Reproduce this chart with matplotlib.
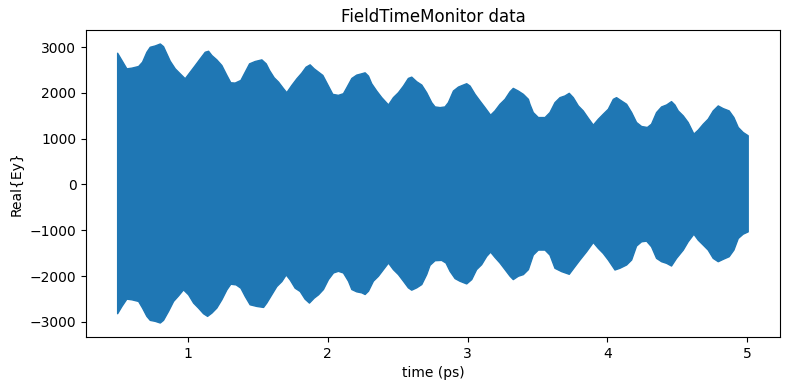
import matplotlib
matplotlib.use("Agg")
import matplotlib.pyplot as plt

# Upper envelope of Real{Ey}: time (ps) and value
t_upper = [0.499, 0.530, 0.565, 0.601, 0.649, 0.677, 0.708, 0.732, 0.768, 0.804,
           0.827, 0.851, 0.875, 0.911, 0.946, 0.982, 1.018, 1.054, 1.089, 1.125,
           1.149, 1.173, 1.208, 1.244, 1.280, 1.308, 1.339, 1.380, 1.411, 1.442,
           1.482, 1.530, 1.561, 1.585, 1.618, 1.649, 1.685, 1.708, 1.744, 1.780,
           1.815, 1.846, 1.875, 1.904, 1.935, 1.966,
           2.006, 2.037, 2.077, 2.113, 2.137, 2.173, 2.208, 2.244, 2.268, 2.292,
           2.315, 2.351, 2.387, 2.435, 2.470, 2.506, 2.542, 2.577, 2.601, 2.637,
           2.673, 2.708, 2.744, 2.768, 2.804, 2.839, 2.863, 2.899, 2.935, 2.970,
           2.994, 3.018, 3.054, 3.089, 3.125, 3.165, 3.196, 3.232, 3.268, 3.304,
           3.327, 3.363, 3.399, 3.435,
           3.446, 3.470, 3.506, 3.554, 3.589, 3.625, 3.661, 3.696, 3.727, 3.756,
           3.792, 3.827, 3.863, 3.899, 3.935, 3.970, 4.006, 4.042, 4.065, 4.101,
           4.137, 4.173, 4.208, 4.244, 4.285, 4.315, 4.351, 4.387, 4.423, 4.458,
           4.482, 4.506, 4.542, 4.577, 4.618, 4.649, 4.685, 4.720, 4.756, 4.792,
           4.827, 4.870, 4.904, 4.935, 4.970, 5.006]
ey_upper = [2867, 2707, 2526, 2541, 2577, 2671, 2888, 2997, 3026, 3069,
            3011, 2852, 2693, 2526, 2418, 2309, 2454, 2599, 2743, 2888,
            2910, 2816, 2722, 2599, 2382, 2222, 2215, 2273, 2454, 2635,
            2686, 2722, 2635, 2490, 2331, 2237, 2092, 2005, 2164, 2309,
            2432, 2562, 2613, 2526, 2454, 2382,
            2150, 1969, 1947, 1983, 2114, 2316, 2389, 2418, 2439, 2367,
            2201, 2041, 1897, 1737, 1897, 2005, 2150, 2316, 2345, 2244,
            2172, 2005, 1788, 1694, 1679, 1694, 1788, 2041, 2128, 2172,
            2201, 2150, 1969, 1824, 1679, 1513, 1607, 1752, 1860, 2027,
            2099, 2041, 1969, 1860,
            1752, 1571, 1462, 1462, 1571, 1788, 1897, 1933, 1991, 1897,
            1716, 1607, 1448, 1296, 1426, 1535, 1643, 1860, 1897, 1824,
            1752, 1571, 1354, 1267, 1245, 1317, 1571, 1694, 1737, 1810,
            1737, 1607, 1498, 1354, 1100, 1187, 1317, 1426, 1607, 1716,
            1658, 1607, 1462, 1245, 1136, 1064]

# Lower envelope of Real{Ey}
t_lower = [0.499, 0.530, 0.565, 0.601, 0.649, 0.677, 0.708, 0.732, 0.768, 0.804,
           0.827, 0.863, 0.899, 0.935, 0.970, 1.006, 1.042, 1.077, 1.113, 1.142,
           1.173, 1.208, 1.244, 1.280, 1.308, 1.346, 1.380, 1.411, 1.446, 1.494,
           1.542, 1.565, 1.601, 1.637, 1.673, 1.704, 1.732, 1.768, 1.804, 1.839,
           1.870, 1.904, 1.935,
           1.970, 2.006, 2.042, 2.077, 2.113, 2.149, 2.173, 2.208, 2.244, 2.268,
           2.292, 2.327, 2.363, 2.399, 2.435, 2.470, 2.506, 2.542, 2.577, 2.601,
           2.637, 2.673, 2.708, 2.732, 2.768, 2.815, 2.846, 2.875, 2.911, 2.946,
           2.994, 3.030, 3.065, 3.101, 3.137, 3.165, 3.196, 3.232, 3.268, 3.304,
           3.327, 3.363, 3.399, 3.435,
           3.446, 3.470, 3.506, 3.554, 3.589, 3.625, 3.673, 3.727, 3.768, 3.804,
           3.851, 3.899, 3.935, 3.970, 4.006, 4.054, 4.089, 4.137, 4.173, 4.208,
           4.244, 4.280, 4.315, 4.351, 4.387, 4.423, 4.458, 4.494, 4.542, 4.577,
           4.618, 4.649, 4.685, 4.720, 4.756, 4.792, 4.827, 4.870, 4.904, 4.935,
           4.970, 5.006]
ey_lower = [-2823, -2664, -2505, -2519, -2555, -2700, -2881, -2968, -2990, -3026,
            -2968, -2772, -2555, -2432, -2302, -2410, -2591, -2700, -2823, -2881,
            -2809, -2700, -2519, -2302, -2179, -2193, -2266, -2447, -2628, -2664,
            -2686, -2591, -2410, -2230, -2121, -1976, -2085, -2266, -2338, -2505,
            -2591, -2483, -2410,
            -2295, -2078, -1933, -1897, -1933, -2114, -2295, -2345, -2367, -2403,
            -2331, -2114, -2005, -1860, -1716, -1860, -1969, -2114, -2258, -2309,
            -2258, -2186, -1969, -1766, -1665, -1658, -1716, -1897, -2056, -2114,
            -2172, -2078, -1860, -1752, -1571, -1477, -1593, -1716, -1860, -2005,
            -2078, -2005, -1969, -1860,
            -1759, -1542, -1433, -1433, -1542, -1831, -1904, -1962, -1795, -1650,
            -1470, -1267, -1397, -1506, -1650, -1868, -1831, -1759, -1650, -1346,
            -1252, -1238, -1361, -1614, -1687, -1723, -1781, -1614, -1433, -1252,
            -1086, -1216, -1325, -1433, -1614, -1687, -1636, -1578, -1433, -1180,
            -1086, -1035]

color = "#1f77b4"

fig = plt.figure(figsize=(7.9, 3.9), dpi=100)
ax = fig.add_axes([0.109, 0.136, 0.878, 0.787])

xs = t_upper + t_lower[::-1]
ys = ey_upper + ey_lower[::-1]
ax.fill(xs, ys, color=color, linewidth=1.0, edgecolor=color, joinstyle="round")

ax.set_title("FieldTimeMonitor data")
ax.set_xlabel("time (ps)")
ax.set_ylabel("Real{Ey}")
ax.set_xticks([1, 2, 3, 4, 5])
ax.set_yticks([-3000, -2000, -1000, 0, 1000, 2000, 3000])
ax.margins(x=0.05, y=0.05)

fig.savefig("out.png", dpi=100)
